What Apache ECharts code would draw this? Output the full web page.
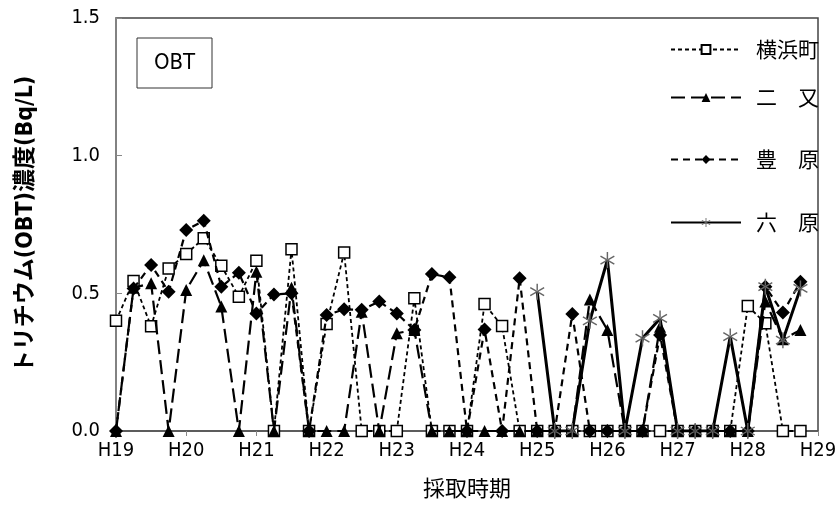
<!DOCTYPE html>
<html><head><meta charset="utf-8">
<script src="https://cdn.jsdelivr.net/npm/echarts@6/dist/echarts.min.js"></script>
<style>html,body{margin:0;padding:0;background:#fff}#c{width:840px;height:513px}</style>
</head><body><div id="c"></div><script>
// Tick labels (fiscal years) – 4 sampling periods per year
const tickLabels = ['H19','H20','H21','H22','H23','H24','H25','H26','H27','H28','H29'];
const seriesNames = ['横浜町','二　又','豊　原','六　原'];

// 横浜町 (open squares)
const yokohamacho = [0.40,0.545,0.38,0.59,0.643,0.70,0.60,0.488,0.618,0,
                     0.66,0,0.389,0.648,0,0,0,0.482,0,0,
                     0,0.461,0.381,0,0,0,0,0,0,0,
                     0,0,0,0,0,0,0.454,0.391,0,0];
// 二又 (triangles)
const futamata = [0,0.52,0.537,0,0.512,0.62,0.452,0,0.578,0,
                  0.52,0,0,0,0.433,0,0.355,0.367,0,0,
                  0,0,0,0,0,0,0,0.478,0.367,0,
                  0,0.379,0,0,0,0,0,0.47,0.333,0.367];
// 豊原 (diamonds)
const toyohara = [0,0.518,0.603,0.506,0.73,0.764,0.524,0.575,0.427,0.496,
                  0.50,0,0.421,0.442,0.44,0.47,0.427,0.367,0.57,0.558,
                  0,0.369,0,0.555,0,0,0.425,0,0,0,
                  0,0.349,0,0,0,0,0,0.524,0.43,0.542];
// 六原 (asterisks) – starts at H25
const rokuhara = [null,null,null,null,null,null,null,null,null,null,
                  null,null,null,null,null,null,null,null,null,null,
                  null,null,null,null,0.506,0,0,0.40,0.621,0,
                  0.337,0.409,0,0,0,0.343,0,0.524,0.33,0.518];

const categories = [];
tickLabels.forEach((t, i) => {
  const n = i < tickLabels.length - 1 ? 4 : 1;
  for (let q = 1; q <= n; q++) categories.push(t + '-' + q);
});

const NUM = "'Liberation Sans Narrow','DejaVu Sans Condensed','Noto Sans CJK JP',sans-serif";
const JP = "'Noto Sans CJK JP',sans-serif";
const STAR = 'path://M9.1,0L10.9,0L10.9,20L9.1,20Z M1.79,15.78L19.11,5.78L18.21,4.22L0.89,14.22Z M0.89,5.78L18.21,15.78L19.11,14.22L1.79,4.22Z';

const styles = [
  {symbol:'rect', size:11, item:{color:'#fff', borderColor:'#000', borderWidth:1.5}, line:{color:'#000', width:1.8, type:[4,3]}},
  {symbol:'triangle', size:12, item:{color:'#000'}, line:{color:'#000', width:2.2, type:[14,6]}},
  {symbol:'diamond', size:14, item:{color:'#000'}, line:{color:'#000', width:2.2, type:[7,5]}},
  {symbol:STAR, size:16, item:{color:'#666'}, line:{color:'#000', width:3, type:'solid'}}
];
const dataSets = [yokohamacho, futamata, toyohara, rokuhara];
const legendCenters = [47, 95, 157, 220];

const chart = echarts.init(document.getElementById('c'), null, {renderer:'canvas'});
chart.setOption({
  animation:false,
  backgroundColor:'#fff',
  grid:{left:116, right:22, top:18, bottom:82, show:true, borderColor:'#444', borderWidth:1.5},
  xAxis:{
    type:'category', data:categories, boundaryGap:false,
    axisLine:{lineStyle:{color:'#555', width:1.5}},
    axisTick:{interval:3, length:5, lineStyle:{color:'#888'}},
    axisLabel:{interval:3, formatter:v => v.split('-')[0], fontSize:20, margin:10, color:'#000', fontFamily:NUM},
    splitLine:{show:false},
    name:'採取時期', nameLocation:'middle', nameGap:46,
    nameTextStyle:{fontSize:22, fontFamily:JP, color:'#000'}
  },
  yAxis:{
    type:'value', min:0, max:1.5, interval:0.5,
    axisLine:{show:true, lineStyle:{color:'#888', width:1.5}},
    axisTick:{show:true, inside:true, length:6, lineStyle:{color:'#888'}},
    splitLine:{show:false},
    axisLabel:{formatter:v => v.toFixed(1), fontSize:20, margin:16, color:'#000', fontFamily:NUM},
    name:'トリチウム(OBT)濃度(Bq/L)', nameLocation:'middle', nameRotate:90, nameGap:78,
    nameTextStyle:{fontSize:23, fontWeight:'bold', fontFamily:NUM, color:'#000'}
  },
  legend: seriesNames.map((n, i) => ({
    data:[n], left:665, top:legendCenters[i] - 13, orient:'vertical',
    itemWidth:70, itemHeight:11,
    textStyle:{fontSize:21, fontFamily:JP, color:'#000', padding:[0,0,0,10]}
  })),
  graphic:[
    {type:'rect', shape:{x:137, y:38, width:75, height:50}, style:{fill:'#fff', stroke:'#333', lineWidth:1}, z:10},
    {type:'text', x:174.5, y:63, z:11, style:{text:'OBT', fontSize:22, fontFamily:NUM, fill:'#000', align:'center', verticalAlign:'middle', textAlign:'center', textVerticalAlign:'middle'}}
  ],
  series: seriesNames.map((n, i) => ({
    name:n, type:'line', data:dataSets[i],
    symbol:styles[i].symbol, symbolSize:styles[i].size, symbolKeepAspect:true,
    showAllSymbol:true, connectNulls:false,
    itemStyle:styles[i].item, lineStyle:styles[i].line,
    z:2 + i
  }))
});
</script></body></html>
